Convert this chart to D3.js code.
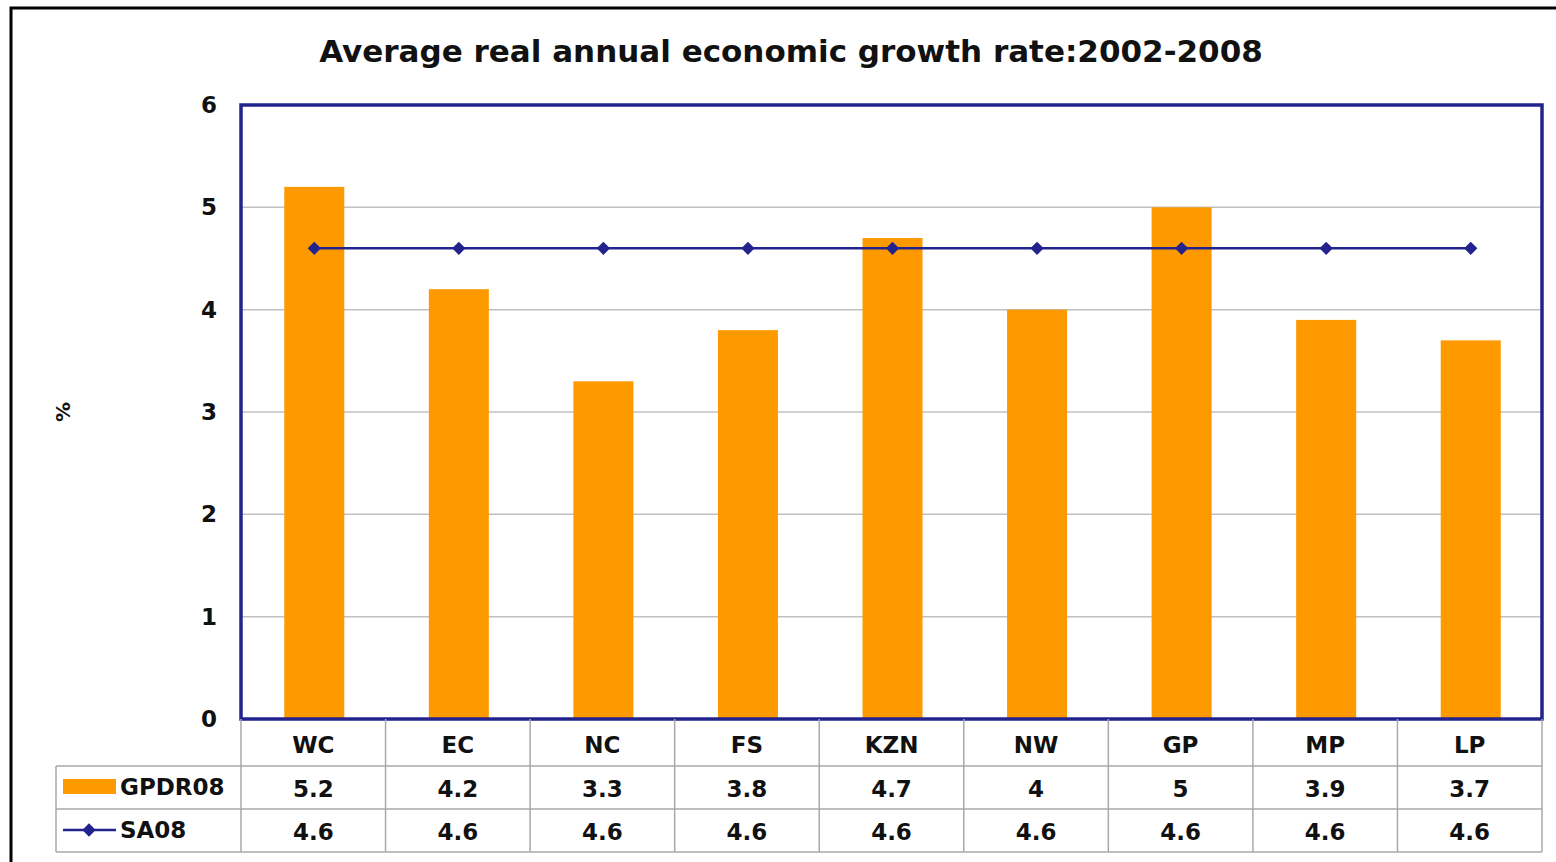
<!DOCTYPE html>
<html>
<head>
<meta charset="utf-8">
<script src="https://cdn.jsdelivr.net/npm/d3@7"></script>
<style>
  html, body { margin: 0; padding: 0; background: #fff; }
  svg { display: block; font-family: "DejaVu Sans", Verdana, sans-serif; font-weight: bold; }
</style>
</head>
<body>
<svg id="chart" width="1556" height="862"></svg>
<script>
// Provinces and their average real annual growth (%), 2002-2008
const categories = ["WC", "EC", "NC", "FS", "KZN", "NW", "GP", "MP", "LP"];
const gpdr08 = [5.2, 4.2, 3.3, 3.8, 4.7, 4, 5, 3.9, 3.7];
const sa08 = [4.6, 4.6, 4.6, 4.6, 4.6, 4.6, 4.6, 4.6, 4.6];
const yTicks = [0, 1, 2, 3, 4, 5, 6];
const seriesNames = ["GPDR08", "SA08"];
const titleText = "Average real annual economic growth rate:2002-2008";

const svg = d3.select("#chart");
const orange = "#FF9900";
const navy = "#23238E";
const grid = "#c0c0c0";
const ink = "#111";
const labelSize = 23;

const plot = { left: 241, top: 105, right: 1542, bottom: 719 };

const x = d3.scaleBand().domain(categories).range([plot.left, plot.right]);
const y = d3.scaleLinear().domain([0, 6]).range([plot.bottom, plot.top]);

// outer frame
svg.append("rect")
  .attr("x", 11).attr("y", 8)
  .attr("width", 1700).attr("height", 1000)
  .attr("fill", "none").attr("stroke", "#000").attr("stroke-width", 3);

// title
svg.append("text")
  .attr("x", 791).attr("y", 62)
  .attr("text-anchor", "middle")
  .attr("font-size", 31).attr("fill", ink)
  .text(titleText);

// gridlines
svg.append("g")
  .selectAll("line")
  .data(yTicks.filter(d => d > 0 && d < 6))
  .join("line")
  .attr("x1", plot.left).attr("x2", plot.right)
  .attr("y1", d => y(d)).attr("y2", d => y(d))
  .attr("stroke", grid).attr("stroke-width", 1.5);

// y axis labels
const yAxis = d3.axisLeft(y).tickValues(yTicks).tickSize(0).tickPadding(24)
  .tickFormat(d3.format("d"));
svg.append("g")
  .attr("transform", `translate(${plot.left},0)`)
  .call(yAxis)
  .call(g => g.select(".domain").remove())
  .call(g => g.selectAll("text")
    .attr("font-size", labelSize).attr("fill", ink)
    .attr("font-family", "DejaVu Sans, Verdana, sans-serif"));

// y axis title
svg.append("text")
  .attr("transform", "translate(70,412) rotate(-90)")
  .attr("text-anchor", "middle")
  .attr("font-size", 20).attr("fill", ink)
  .text("%");

// bars
const barW = 60;
svg.append("g")
  .selectAll("rect")
  .data(categories.map((c, i) => ({ c, v: gpdr08[i] })))
  .join("rect")
  .attr("x", d => x(d.c) + x.bandwidth() / 2 - barW / 2 + 1)
  .attr("y", d => y(d.v))
  .attr("width", barW)
  .attr("height", d => y(0) - y(d.v))
  .attr("fill", orange);

// SA08 line with diamond markers
const line = d3.line()
  .x((d, i) => x(categories[i]) + x.bandwidth() / 2 + 1)
  .y(d => y(d));
svg.append("path")
  .datum(sa08)
  .attr("d", line)
  .attr("fill", "none").attr("stroke", navy).attr("stroke-width", 2.5);

// square marker turned 45° gives an even diamond
const diamond = d3.symbol().type(d3.symbolSquare).size(88);
svg.append("g")
  .selectAll("path")
  .data(sa08)
  .join("path")
  .attr("d", diamond)
  .attr("transform", (d, i) => `translate(${x(categories[i]) + x.bandwidth() / 2 + 1},${y(d)}) rotate(45)`)
  .attr("fill", navy);

// plot border
svg.append("rect")
  .attr("x", plot.left).attr("y", plot.top)
  .attr("width", plot.right - plot.left).attr("height", plot.bottom - plot.top)
  .attr("fill", "none").attr("stroke", navy).attr("stroke-width", 3.5);

// data table below the plot
const rowY = [plot.bottom, 766, 809, 852];
const tableLeft = 56;
const tg = svg.append("g");
const tStroke = "#a8a8a8";

// horizontal rules
[1, 2, 3].forEach(r => {
  tg.append("line").attr("x1", tableLeft).attr("x2", plot.right)
    .attr("y1", rowY[r]).attr("y2", rowY[r]).attr("stroke", tStroke).attr("stroke-width", 1.5);
});

// vertical rules
const vx = categories.map(c => x(c)).concat([plot.right]);
tg.selectAll("line.v")
  .data(vx)
  .join("line")
  .attr("class", "v")
  .attr("x1", d => d).attr("x2", d => d)
  .attr("y1", rowY[0]).attr("y2", rowY[3])
  .attr("stroke", tStroke).attr("stroke-width", 1.5);
tg.append("line").attr("x1", tableLeft).attr("x2", tableLeft)
  .attr("y1", rowY[1]).attr("y2", rowY[3]).attr("stroke", tStroke).attr("stroke-width", 1.5);

// category header row
tg.selectAll("text.cat")
  .data(categories)
  .join("text")
  .attr("class", "cat")
  .attr("x", d => x(d) + x.bandwidth() / 2)
  .attr("y", 753)
  .attr("text-anchor", "middle")
  .attr("font-size", labelSize).attr("fill", ink)
  .text(d => d);

// value rows
[gpdr08, sa08].forEach((vals, r) => {
  tg.selectAll(`text.val${r}`)
    .data(vals)
    .join("text")
    .attr("class", `val${r}`)
    .attr("x", (d, i) => x(categories[i]) + x.bandwidth() / 2)
    .attr("y", rowY[r + 1] + 31)
    .attr("text-anchor", "middle")
    .attr("font-size", labelSize).attr("fill", ink)
    .text(d => d3.format("~g")(d));
});

// legend keys in the table's first column
tg.append("rect")
  .attr("x", 63).attr("y", 779).attr("width", 53).attr("height", 15)
  .attr("fill", orange);
tg.append("line")
  .attr("x1", 63).attr("x2", 116).attr("y1", 830).attr("y2", 830)
  .attr("stroke", navy).attr("stroke-width", 2.5);
tg.append("path")
  .attr("d", diamond)
  .attr("transform", "translate(89,830) rotate(45)")
  .attr("fill", navy);
tg.selectAll("text.leg")
  .data(seriesNames)
  .join("text")
  .attr("class", "leg")
  .attr("x", 120)
  .attr("y", (d, i) => rowY[i + 1] + 29)
  .attr("font-size", labelSize).attr("fill", ink)
  .text(d => d);
</script>
</body>
</html>
